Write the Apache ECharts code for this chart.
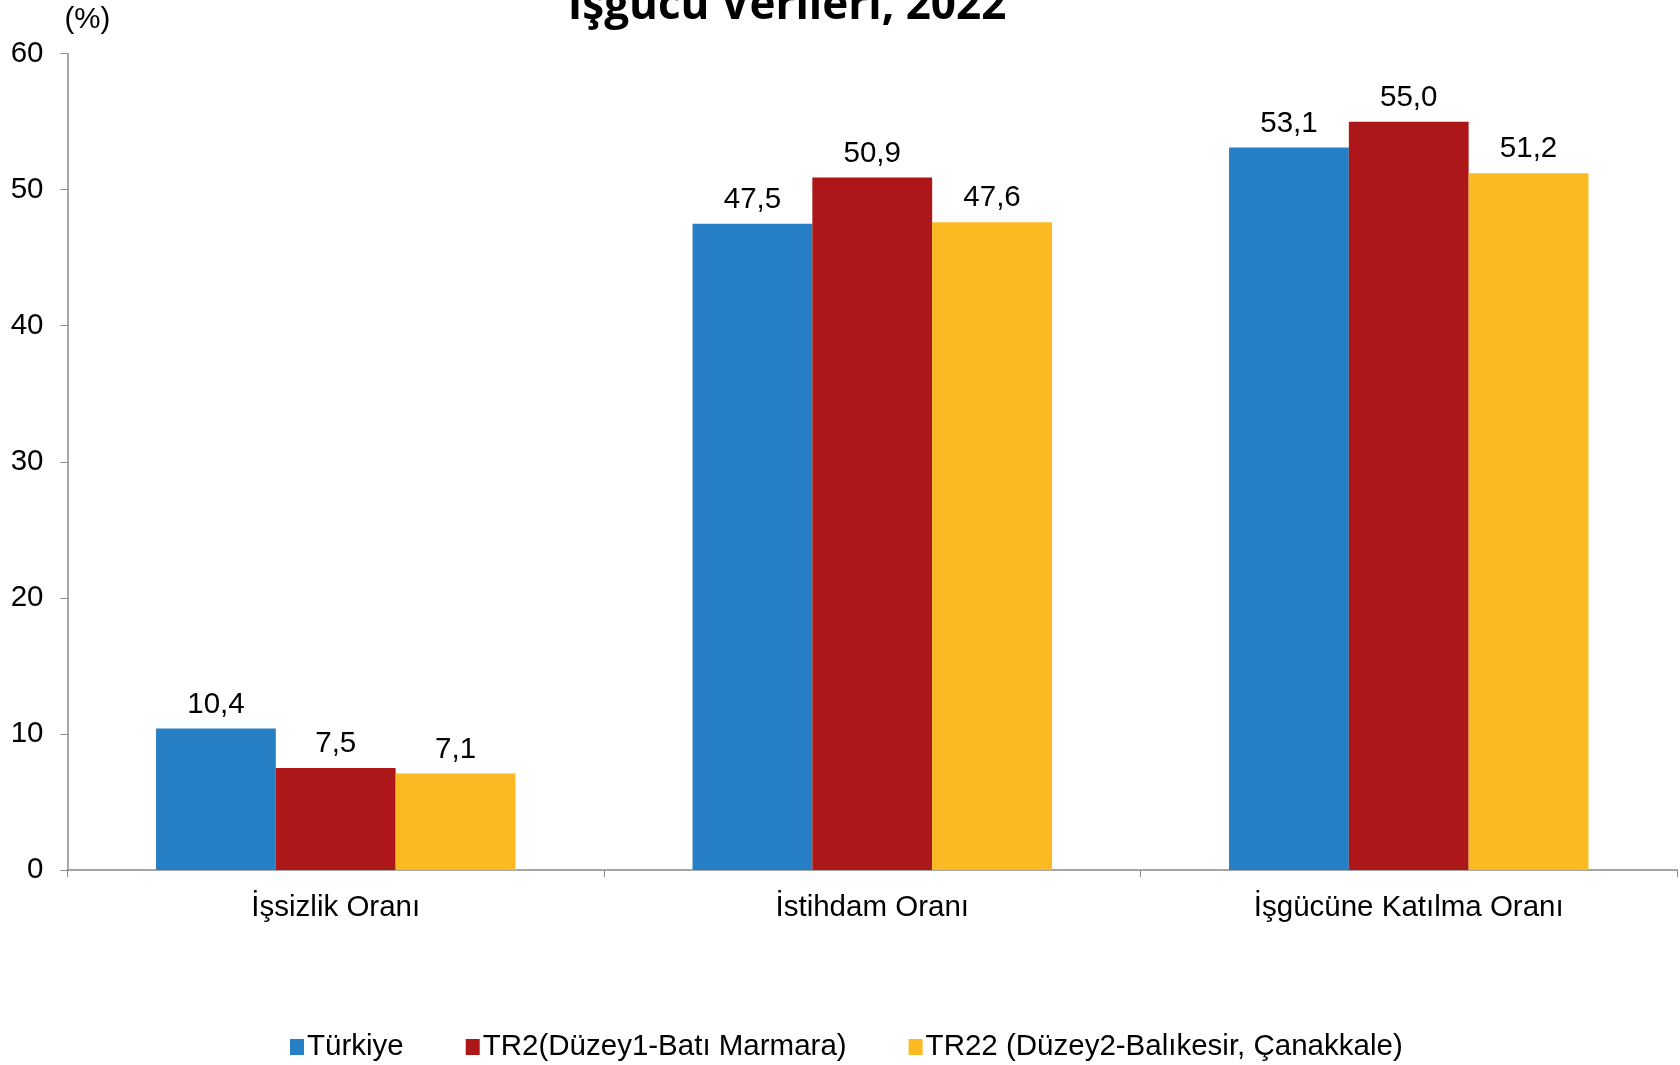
<!DOCTYPE html>
<html>
<head>
<meta charset="utf-8">
<script src="https://cdn.jsdelivr.net/npm/echarts@6/dist/echarts.min.js"></script>
<style>
    html, body { margin: 0; padding: 0; background: #fff; }
    #chart { width: 1680px; height: 1065px; }
</style>
</head>
<body>
<div id="chart"></div>
<script>
// kategoriler ve seriler
const categories = ['İşsizlik Oranı', 'İstihdam Oranı', 'İşgücüne Katılma Oranı']
const seriesNames = ['Türkiye', 'TR2(Düzey1-Batı Marmara)', 'TR22 (Düzey2-Balıkesir, Çanakkale)']
const turkiye = [10.4, 47.5, 53.1]
const tr2 = [7.5, 50.9, 55.0]
const tr22 = [7.1, 47.6, 51.2]
const colors = ['#2780c5', '#ae1719', '#fbba22']

const font = 'Liberation Sans, Arial, sans-serif'
const fs = 29.5
const chart = echarts.init(document.getElementById('chart'))

const values = [turkiye, tr2, tr22]
const series = values.map((data, i) => ({
    name: seriesNames[i],
    type: 'bar',
    data: data,
    barGap: '0%',
    barCategoryGap: '33%',
    itemStyle: { color: colors[i] },
    label: {
        show: true,
        position: 'top',
        distance: 9,
        color: '#000',
        fontSize: fs,
        fontFamily: font,
        formatter: p => p.value.toFixed(1).replace('.', ',')
    }
}))

const option = {
    animation: false,
    title: {
        text: 'İşgücü Verileri, 2022',
        left: 782,
        textAlign: 'center',
        top: -21,
        textStyle: {
            fontFamily: 'Open Sans',
            fontWeight: 'bold',
            fontSize: 44,
            color: '#000'
        }
    },
    legend: {
        bottom: -2,
        left: 285,
        itemWidth: 14,
        itemHeight: 16,
        itemGap: 62,
        icon: 'rect',
        textStyle: { fontSize: fs, fontFamily: font, color: '#000', padding: [0, 0, 0, -2] },
        data: seriesNames
    },
    grid: {
        left: 67.5,
        right: 3,
        top: 53.6,
        bottom: 195,
        containLabel: false
    },
    xAxis: {
        type: 'category',
        data: categories,
        axisLine: { lineStyle: { color: '#898989', width: 1.5 } },
        axisTick: { show: true, length: 7, lineStyle: { color: '#898989' } },
        axisLabel: { margin: 23, fontSize: fs, fontFamily: font, color: '#000' }
    },
    yAxis: {
        type: 'value',
        min: 0,
        max: 60,
        interval: 10,
        name: '(%)',
        nameLocation: 'end',
        nameGap: 19,
        nameTextStyle: { align: 'left', fontSize: fs, fontFamily: font, color: '#000', padding: [0, 0, 0, -3] },
        splitLine: { show: false },
        axisLine: { show: true, lineStyle: { color: '#898989', width: 1.5 } },
        axisTick: { show: true, length: 7, lineStyle: { color: '#898989' } },
        axisLabel: { margin: 24, fontSize: fs, fontFamily: font, color: '#000' }
    },
    series: series
}
chart.setOption(option)
</script>
</body>
</html>
